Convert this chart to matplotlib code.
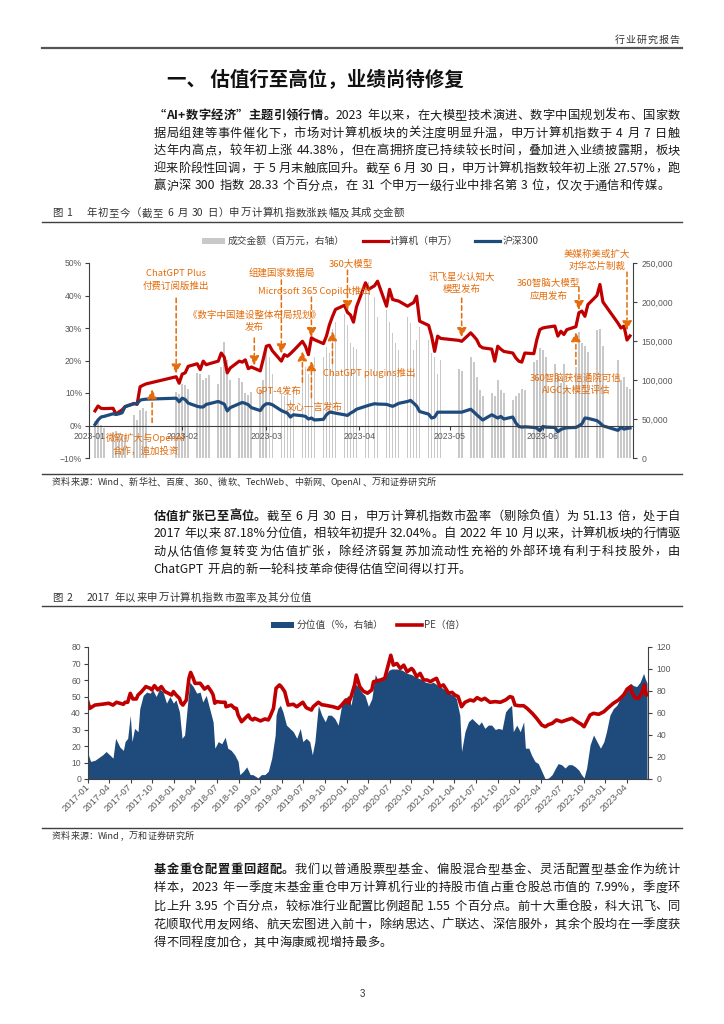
# ----- Import libraries ----
import matplotlib
matplotlib.use('Agg')
import matplotlib.pyplot as plt
import matplotlib.dates as mdates
from matplotlib.font_manager import FontProperties
from matplotlib.lines import Line2D
from matplotlib.patches import Rectangle
from matplotlib.ticker import FuncFormatter
import numpy as np
import pandas as pd

CJK = ['Noto Sans CJK SC', 'DejaVu Sans']
NUM = ['Liberation Sans', 'DejaVu Sans']
plt.rcParams['font.family'] = CJK
plt.rcParams['axes.unicode_minus'] = False

# ---- Figure 1 data: trading days of 2023 H1 ----
holidays = ['2023-01-23', '2023-01-24', '2023-01-25', '2023-01-26', '2023-01-27',
            '2023-04-05', '2023-05-01', '2023-05-02', '2023-05-03',
            '2023-06-22', '2023-06-23']

# 计算机(申万) cumulative change, %
computer_jan = [4.5, 6.0, 5.3, 5.2, 5.3, 3.5, 4.2, 4.8, 5.8, 6.8, 6.5, 11.9, 12.4, 12.8, 15.0, 13.0]
computer_feb = [15.8, 16.2, 18.2, 19.0, 17.2, 19.8, 18.7, 19.0, 19.8, 22.3, 21.0, 16.2, 17.7, 19.8,
                19.5, 20.2, 17.5, 18.0, 16.8, 20.5]
computer_mar = [24.4, 24.7, 23.0, 19.8, 21.8, 21.3, 22.1, 23.0, 25.9, 24.4, 21.8, 27.0, 26.4, 25.2,
                27.5, 31.0, 33.5, 35.7, 37.0, 34.8, 34.0, 31.8, 36.5]
computer_apr = [43.9, 41.9, 43.0, 44.4, 36.7, 41.9, 38.8, 38.5, 38.3, 36.7, 37.3, 37.8, 39.8, 32.1,
                30.8, 27.5, 22.8, 27.5, 26.8]
computer_may = [26.2, 25.9, 28.5, 27.5, 26.4, 24.5, 23.9, 23.5, 19.8, 24.4, 23.5, 22.8, 22.3, 20.8,
                19.8, 19.5, 22.3, 22.1, 26.4, 29.5]
computer_jun = [30.0, 30.2, 30.6, 27.5, 29.0, 28.0, 29.5, 30.4, 34.7, 35.2, 33.6, 37.2, 40.0, 43.4,
                38.0, 31.5, 30.0, 30.6, 26.3, 27.57]

# 沪深300 cumulative change, %
hs300_jan = [0.3, 1.7, 2.6, 2.8, 3.6, 3.4, 3.6, 3.9, 5.8, 6.7, 6.7, 7.8, 8.0, 8.1, 8.4, 7.3]
hs300_feb = [8.4, 8.0, 6.9, 5.9, 5.7, 5.7, 6.5, 6.7, 7.4, 7.0, 6.6, 4.5, 5.5, 6.7, 7.1, 6.8, 6.4,
             5.5, 4.6, 6.0]
hs300_mar = [6.7, 6.7, 6.4, 4.6, 4.2, 3.8, 2.6, 3.3, 3.0, 2.8, 2.0, 2.3, 1.7, 1.9, 3.3, 4.1, 4.0,
             3.8, 3.3, 3.1, 3.8, 4.3, 5.0]
hs300_apr = [5.9, 6.2, 6.7, 6.6, 6.5, 6.2, 5.9, 6.3, 6.8, 7.4, 7.7, 6.9, 6.0, 4.3, 3.5, 2.3, 2.6,
             4.1, 4.1]
hs300_may = [4.1, 4.1, 5.0, 4.2, 3.3, 2.5, 1.7, 3.3, 2.8, 2.3, 2.8, 2.0, 2.6, 0.8, -0.3, -0.5,
             -0.4, -0.6, -0.8, -1.6]
hs300_jun = [-0.3, -0.5, -0.6, -1.9, -1.2, -0.9, -0.7, -0.6, -0.1, 0.5, 2.3, 2.2, 1.5, 0.8, -0.1,
             -1.5, -0.6, -1.1, -0.9, -0.76]

# 成交金额 (百万元)
volume_jan = [48000, 50000, 42000, 38000, 33000, 34000, 32000, 30000, 29000, 55000, 49000, 62000,
              64000, 60000, 84000, 82000]
volume_feb = [95000, 93000, 88000, 109000, 108000, 100000, 102000, 107000, 95000, 117000, 149000,
              126000, 100000, 102000, 98000, 83000, 81000, 85000, 89000, 100000]
volume_mar = [138000, 129000, 108000, 83000, 79000, 91000, 74000, 91000, 123000, 117000, 108000,
              113000, 130000, 130000, 142000, 134000, 165000, 175000, 185000, 170000, 147000,
              142000, 140000]
volume_apr = [224000, 226000, 207000, 181000, 190000, 175000, 160000, 147000, 139000, 181000,
              173000, 139000, 151000, 168000, 151000, 134000, 130000, 108000, 126000]
volume_may = [114000, 112000, 130000, 123000, 104000, 87000, 79000, 83000, 79000, 100000, 87000,
              83000, 74000, 79000, 83000, 89000, 87000, 123000, 126000, 141000]
volume_jun = [139000, 130000, 121000, 108000, 96000, 121000, 91000, 117000, 162000, 147000, 143000,
              136000, 164000, 166000, 143000, 126000, 100000, 104000, 91000, 89000]

# (text, text date, text level %, arrow date, arrow start %, arrow tip %, text align)
events = [
    ('ChatGPT Plus\n付费订阅版推出', '2023-01-30', 44.8, '2023-01-30', 39.2, 16.0, 'center'),
    ('组建国家数据局', '2023-03-06', 46.9, '2023-03-06', 44.8, 22.2, 'center'),
    ('360大模型', '2023-03-29', 49.4, '2023-03-28', 47.8, 35.5, 'center'),
    ('Microsoft 365 Copilot推出', '2023-03-17', 41.4, '2023-03-16', 39.5, 27.2, 'center'),
    ('《数字中国建设整体布局规划》\n发布', '2023-02-25', 32.1, '2023-02-25', 26.9, 18.5, 'center'),
    ('ChatGPT plugins推出', '2023-03-20', 16.0, '2023-03-23', 19.1, 29.0, 'left'),
    ('GPT-4发布', '2023-03-05', 10.5, '2023-03-13', 13.3, 22.8, 'center'),
    ('文心一言发布', '2023-03-17', 5.6, '2023-03-16', 8.6, 19.8, 'center'),
    ('微软扩大与OpenAI\n合作，追加投资', '2023-01-20', -5.7, '2023-01-22', 0.9, 11.1, 'center'),
    ('讯飞星火认知大\n模型发布', '2023-05-05', 43.8, '2023-05-05', 39.2, 27.2, 'center'),
    ('360智脑大模型\n应用发布', '2023-06-03', 41.8, '2023-06-13', 42.6, 35.5, 'center'),
    ('美媒称美或扩大\n对华芯片制裁', '2023-06-19', 50.8, '2023-06-29', 47.2, 29.3, 'center'),
    ('360智脑获信通院可信\nAIGC大模型评估', '2023-06-12', 12.8, '2023-06-12', 18.8, 28.7, 'center'),
]

# ---- Figure 2 data: PE (left axis) and its percentile (right axis) ----
pe_year = [2017.00, 2017.02, 2017.08, 2017.16, 2017.24, 2017.29, 2017.33, 2017.41, 2017.43, 2017.46,
           2017.49, 2017.52, 2017.56, 2017.58, 2017.62, 2017.67, 2017.72, 2017.74, 2017.77, 2017.81,
           2017.85, 2017.89, 2017.93, 2017.97, 2017.99,
           2018.02, 2018.06, 2018.08, 2018.10, 2018.14, 2018.17, 2018.19, 2018.22, 2018.24, 2018.30,
           2018.33, 2018.35, 2018.39, 2018.43, 2018.45, 2018.47, 2018.49, 2018.55, 2018.59, 2018.60,
           2018.66, 2018.70, 2018.72, 2018.74, 2018.78, 2018.82, 2018.86, 2018.88, 2018.91, 2018.93,
           2019.00, 2019.05, 2019.09, 2019.11, 2019.15, 2019.17, 2019.18, 2019.22, 2019.24, 2019.28,
           2019.32, 2019.38, 2019.42, 2019.49, 2019.53, 2019.59, 2019.61, 2019.67, 2019.71, 2019.74,
           2019.78, 2019.84, 2019.90, 2019.94, 2019.99,
           2020.02, 2020.05, 2020.09, 2020.11, 2020.15, 2020.19, 2020.24, 2020.29, 2020.31, 2020.35,
           2020.39, 2020.44, 2020.49, 2020.51, 2020.54, 2020.58, 2020.62, 2020.66, 2020.70, 2020.75,
           2020.77, 2020.81, 2020.85, 2020.89, 2020.93, 2020.97,
           2021.00, 2021.04, 2021.08, 2021.12, 2021.18, 2021.22, 2021.25, 2021.29, 2021.33, 2021.37,
           2021.43, 2021.47, 2021.51, 2021.56, 2021.60, 2021.66, 2021.72, 2021.78, 2021.84, 2021.89,
           2021.92, 2021.95,
           2022.00, 2022.05, 2022.09, 2022.15, 2022.20, 2022.26, 2022.30, 2022.34, 2022.38, 2022.43,
           2022.49, 2022.55, 2022.61, 2022.67, 2022.72, 2022.75, 2022.78, 2022.82, 2022.86, 2022.92,
           2022.98,
           2023.03, 2023.09, 2023.15, 2023.21, 2023.25, 2023.29, 2023.30, 2023.34, 2023.38, 2023.42,
           2023.45, 2023.47, 2023.49]
pe_value = [46.5, 42.8, 44.8, 45.3, 45.9, 44.8, 46.5, 45.3, 46.5, 46.5, 51.9, 48.5, 48.5, 50.9, 52.9,
            56.0, 55.0, 54.0, 56.6, 54.0, 56.0, 53.0, 52.0, 50.9, 53.0,
            51.0, 48.9, 45.9, 44.8, 47.9, 61.0, 64.6, 61.0, 58.0, 58.0, 56.0, 54.5, 56.0, 53.0, 51.0,
            45.9, 46.9, 46.5, 46.5, 43.8, 44.8, 42.8, 42.8, 38.8, 34.7, 36.8, 38.8, 36.8, 35.8, 36.8,
            35.2, 36.4, 35.8, 37.8, 42.8, 51.0, 55.0, 57.0, 56.0, 53.0, 44.8, 45.3, 43.8, 46.5, 43.2,
            41.8, 43.8, 46.5, 45.0, 44.8, 44.4, 43.8, 42.8, 44.8, 47.9,
            46.0, 50.0, 57.0, 63.0, 56.0, 53.3, 52.0, 54.0, 59.0, 59.5, 60.0, 61.0, 71.0, 75.0, 69.0,
            70.0, 67.0, 69.0, 65.0, 67.0, 66.0, 62.0, 64.0, 60.0, 60.0, 59.0,
            60.0, 61.0, 56.0, 57.0, 52.0, 52.5, 51.0, 50.0, 43.8, 46.5, 47.9, 47.3, 49.3, 47.9, 48.9,
            46.5, 46.9, 46.5, 47.9, 49.9, 49.5, 44.8,
            44.4, 44.4, 42.8, 39.8, 36.8, 32.7, 31.7, 33.0, 33.7, 35.8, 34.7, 35.8, 36.8, 34.7, 33.1,
            31.7, 34.7, 38.8, 39.8, 39.2, 40.8,
            43.2, 45.9, 47.9, 51.0, 54.5, 56.0, 53.0, 49.3, 48.9, 52.0, 57.0, 51.0, 51.13]

pct_year = [2017.00, 2017.03, 2017.08, 2017.17, 2017.21, 2017.25, 2017.29, 2017.32, 2017.37, 2017.41,
            2017.43, 2017.46, 2017.49, 2017.51, 2017.54, 2017.58, 2017.60, 2017.64, 2017.68, 2017.72,
            2017.75, 2017.79, 2017.83, 2017.87, 2017.91, 2017.95, 2017.99,
            2018.02, 2018.06, 2018.09, 2018.12, 2018.16, 2018.18, 2018.22, 2018.26, 2018.30, 2018.33,
            2018.37, 2018.41, 2018.45, 2018.47, 2018.51, 2018.55, 2018.59, 2018.62, 2018.66, 2018.70,
            2018.74, 2018.76, 2018.80, 2018.84, 2018.88, 2018.91, 2018.97,
            2019.01, 2019.05, 2019.09, 2019.13, 2019.17, 2019.18, 2019.20, 2019.23, 2019.26, 2019.30,
            2019.34, 2019.38, 2019.42, 2019.46, 2019.49, 2019.53, 2019.57, 2019.60, 2019.63, 2019.67,
            2019.71, 2019.75, 2019.78, 2019.82, 2019.86, 2019.90, 2019.94, 2019.98,
            2020.02, 2020.05, 2020.09, 2020.13, 2020.17, 2020.21, 2020.25, 2020.29, 2020.33, 2020.36,
            2020.39, 2020.44, 2020.49, 2020.52, 2020.58, 2020.64, 2020.70, 2020.75, 2020.79, 2020.85,
            2020.91, 2020.97,
            2021.00, 2021.06, 2021.12, 2021.18, 2021.24, 2021.27, 2021.31, 2021.33, 2021.37, 2021.41,
            2021.45, 2021.49, 2021.53, 2021.56, 2021.60, 2021.64, 2021.68, 2021.72, 2021.76, 2021.80,
            2021.84, 2021.87, 2021.91, 2021.93, 2021.97,
            2022.01, 2022.05, 2022.07, 2022.11, 2022.14, 2022.18, 2022.22, 2022.26, 2022.30, 2022.34,
            2022.38, 2022.42, 2022.45, 2022.49, 2022.53, 2022.57, 2022.61, 2022.65, 2022.69, 2022.72,
            2022.75, 2022.78, 2022.82, 2022.86, 2022.90, 2022.94, 2022.98,
            2023.01, 2023.05, 2023.09, 2023.13, 2023.17, 2023.21, 2023.25, 2023.29, 2023.32, 2023.36,
            2023.40, 2023.44, 2023.46, 2023.48]
pct_value = [23, 16, 17, 22, 25, 22, 19, 37, 29, 26, 34, 37, 58, 34, 46, 43, 64, 76, 79, 78, 81, 75,
             82, 79, 69, 75, 69,
             72, 61, 37, 40, 73, 88, 84, 78, 79, 70, 76, 64, 52, 28, 34, 32, 38, 28, 26, 22, 16, 4, 7,
             11, 4, 4, 1,
             4, 4, 7, 19, 40, 58, 64, 67, 61, 49, 46, 43, 37, 46, 34, 37, 34, 22, 34, 67, 58, 52, 58,
             58, 55, 49, 67, 73,
             76, 67, 87, 84, 79, 76, 66, 73, 95, 90, 91, 93, 99, 100, 100, 99, 96, 95, 93, 91, 88, 87,
             88, 85, 82, 78, 76, 73, 58, 25, 43, 52, 55, 52, 49, 52, 46, 49, 49, 45, 46, 45, 61, 64,
             67, 43, 49,
             43, 52, 28, 28, 22, 16, 14, 7, 0, 1, 4, 10, 14, 13, 10, 13, 13, 11, 8, 4, 1, 10, 31, 40,
             34, 28, 34,
             43, 58, 64, 67, 73, 79, 84, 87, 85, 84, 88, 96, 91, 87.18]

# ---- Page text ----
header_text = '行业研究报告'
title_text = '一、 估值行至高位，业绩尚待修复'
para1_bold = '“AI+数字经济”主题引领行情。'
para1_lines = [
    '“AI+数字经济”主题引领行情。2023 年以来，在大模型技术演进、数字中国规划发布、国家数',
    '据局组建等事件催化下，市场对计算机板块的关注度明显升温，申万计算机指数于 4 月 7 日触',
    '达年内高点，较年初上涨 44.38%，但在高拥挤度已持续较长时间，叠加进入业绩披露期，板块',
    '迎来阶段性回调，于 5 月末触底回升。截至 6 月 30 日，申万计算机指数较年初上涨 27.57%，跑',
    '赢沪深 300 指数 28.33 个百分点，在 31 个申万一级行业中排名第 3 位，仅次于通信和传媒。',
]
para2_bold = '估值扩张已至高位。'
para2_lines = [
    '估值扩张已至高位。截至 6 月 30 日，申万计算机指数市盈率（剔除负值）为 51.13 倍，处于自',
    '2017 年以来 87.18%分位值，相较年初提升 32.04%。自 2022 年 10 月以来，计算机板块的行情驱',
    '动从估值修复转变为估值扩张，除经济弱复苏加流动性充裕的外部环境有利于科技股外，由',
    'ChatGPT 开启的新一轮科技革命使得估值空间得以打开。',
]
para3_bold = '基金重仓配置重回超配。'
para3_lines = [
    '基金重仓配置重回超配。我们以普通股票型基金、偏股混合型基金、灵活配置型基金作为统计',
    '样本，2023 年一季度末基金重仓申万计算机行业的持股市值占重仓股总市值的 7.99%，季度环',
    '比上升 3.95 个百分点，较标准行业配置比例超配 1.55 个百分点。前十大重仓股，科大讯飞、同',
    '花顺取代用友网络、航天宏图进入前十，除纳思达、广联达、深信服外，其余个股均在一季度获',
    '得不同程度加仓，其中海康威视增持最多。',
]
caption1 = '图 1    年初至今（截至 6 月 30 日）申万计算机指数涨跌幅及其成交金额'
caption2 = '图 2    2017 年以来申万计算机指数市盈率及其分位值'
source1 = '资料来源：Wind、新华社、百度、360、微软、TechWeb、中新网、OpenAI、万和证券研究所'
source2 = '资料来源：Wind，万和证券研究所'

RED = '#C00000'
NAVY = '#1F4A7C'
ORANGE = '#E46C0A'
BAR_GRAY = '#C9C9C9'
DARK = '#1A1A1A'
AXIS = '#404040'
TICK = '#595959'

W, H = 724, 1024
fig = plt.figure(figsize=(W / 100, H / 100), dpi=100)
renderer = fig.canvas.get_renderer()


def fx(px):
    return px / W


def fy(py):
    return 1 - py / H


# ---- Text helpers (token by token, so lines can be justified) ----
_adv_cache = {}


def tok_adv(tok, size, weight):
    key = (tok, size, weight)
    if key not in _adv_cache:
        if tok == ' ':
            _adv_cache[key] = size * 100 / 72 * 0.28
        else:
            fp = FontProperties(family=CJK, size=size, weight=weight)
            w1 = renderer.get_text_width_height_descent('国' + tok + '国', fp, ismath=False)[0]
            w0 = renderer.get_text_width_height_descent('国国', fp, ismath=False)[0]
            _adv_cache[key] = w1 - w0
    return _adv_cache[key]


def split_tokens(s):
    toks, buf = [], ''
    for ch in s:
        if ord(ch) < 128 and ch != ' ':
            buf += ch
        else:
            if buf:
                toks.append(buf)
                buf = ''
            toks.append(ch)
    if buf:
        toks.append(buf)
    return toks


def draw_line(s, x0, y_mid, size, x1=None, n_bold=0, color=DARK, gap=0.0):
    # y_mid is the middle of the line in page pixels
    baseline = y_mid + size * 100 / 72 * 0.37
    toks, pos = [], 0
    for t in split_tokens(s):
        toks.append((t, 'bold' if pos < n_bold else 'normal'))
        pos += len(t)
    advs = [tok_adv(t, size, w) for t, w in toks]
    if x1 is not None and len(toks) > 1:
        gap = (x1 - x0 - sum(advs)) / (len(toks) - 1)
    x = x0
    for (t, w), a in zip(toks, advs):
        if t != ' ':
            fig.text(fx(x), fy(baseline), t, fontsize=size, fontweight=w, family=CJK,
                     color=color, ha='left', va='baseline')
        x += a + gap


def draw_para(lines, bold, y0, step):
    for i, line in enumerate(lines):
        last = i == len(lines) - 1
        draw_line(line, 153.5, y0 + i * step, 8.8, x1=None if last else 680,
                  n_bold=len(bold) if i == 0 else 0, gap=0.3)


def hline(py, lw=1.0, color=AXIS):
    fig.add_artist(Line2D([fx(42), fx(682)], [fy(py), fy(py)], color=color, lw=lw))


def style_ticks(ax, size):
    for lbl in ax.get_xticklabels() + ax.get_yticklabels():
        lbl.set_fontfamily(NUM)
        lbl.set_fontsize(size)
        lbl.set_color(TICK)


# ---- Page header and text ----
draw_line(header_text, 615, 39, 7.2, x1=679, color='#333333')
hline(48, lw=1.6, color='#555555')
fig.text(fx(167), fy(80), title_text, fontsize=14, fontweight='bold', family=CJK,
         color='#111111', ha='left', va='center')
draw_para(para1_lines, para1_bold, 114.5, 17.6)

draw_line(caption1, 52, 212.5, 7.5, color='#333333', gap=0.6)
hline(222)

# ---- Figure 1 ----
trade_days = pd.bdate_range('2023-01-03', '2023-06-30')
trade_days = trade_days[~trade_days.isin(pd.to_datetime(holidays))]
computer = computer_jan + computer_feb + computer_mar + computer_apr + computer_may + computer_jun
hs300 = hs300_jan + hs300_feb + hs300_mar + hs300_apr + hs300_may + hs300_jun
volume = volume_jan + volume_feb + volume_mar + volume_apr + volume_may + volume_jun

ax1 = fig.add_axes([fx(89), fy(458), fx(633) - fx(89), (458 - 263) / H])
axb = ax1.twinx()
ax1.set_zorder(2)
axb.set_zorder(1)
ax1.patch.set_visible(False)

axb.bar(trade_days, volume, width=0.55, color=BAR_GRAY, linewidth=0)
axb.set_ylim(0, 250000)
axb.set_yticks(range(0, 250001, 50000))
axb.yaxis.set_major_formatter(FuncFormatter(lambda v, p: f'{v:,.0f}'))

ax1.plot(trade_days, computer, color=RED, lw=2.3, solid_joinstyle='round')
ax1.plot(trade_days, hs300, color=NAVY, lw=2.3, solid_joinstyle='round')
ax1.set_ylim(-10, 50)
ax1.set_yticks(range(-10, 51, 10))
ax1.yaxis.set_major_formatter(FuncFormatter(lambda v, p: f'{v:.0f}%'.replace('-', '\u2212')))
ax1.set_xlim(pd.Timestamp('2023-01-01'), pd.Timestamp('2023-07-01'))
month_starts = pd.date_range('2023-01-01', '2023-06-01', freq='MS')
ax1.set_xticks(month_starts)
ax1.set_xticklabels([d.strftime('%Y-%m') for d in month_starts])

for s in ['top', 'right']:
    ax1.spines[s].set_visible(False)
ax1.spines['bottom'].set_position(('data', 0))
for s in ['top', 'left', 'bottom']:
    axb.spines[s].set_visible(False)
for sp in [ax1.spines['left'], ax1.spines['bottom'], axb.spines['right']]:
    sp.set_color(AXIS)
    sp.set_linewidth(0.8)
ax1.tick_params(axis='both', direction='out', length=3, width=0.8, color=AXIS, pad=2)
axb.tick_params(axis='y', direction='out', length=3, width=0.8, color=AXIS, pad=3)
style_ticks(ax1, 6.2)
style_ticks(axb, 6.2)

for text, tdate, tlev, adate, a_from, a_to, align in events:
    ax1.text(mdates.date2num(pd.Timestamp(tdate)), tlev, text, ha=align, va='center',
             fontsize=6.8, color=ORANGE, family=CJK, linespacing=1.45, zorder=5)
    ax_x = mdates.date2num(pd.Timestamp(adate))
    ax1.annotate('', xy=(ax_x, a_to), xytext=(ax_x, a_from),
                 arrowprops=dict(arrowstyle='-|>,head_length=0.55,head_width=0.28',
                                 color=ORANGE, lw=1.1, linestyle=(0, (3, 2)),
                                 shrinkA=0, shrinkB=0), zorder=5)

# Figure 1 legend
fig.add_artist(Rectangle((fx(202), fy(244)), fx(225) - fx(202), 6 / H, color=BAR_GRAY, lw=0))
fig.text(fx(228), fy(241), '成交金额（百万元，右轴）', fontsize=7, color='#404040',
         family=CJK, ha='left', va='center')
fig.add_artist(Line2D([fx(363), fx(388)], [fy(241), fy(241)], color=RED, lw=2.3))
fig.text(fx(390), fy(241), '计算机（申万）', fontsize=7, color='#404040', family=CJK,
         ha='left', va='center')
fig.add_artist(Line2D([fx(475), fx(500)], [fy(241), fy(241)], color=NAVY, lw=2.3))
fig.text(fx(503), fy(241), '沪深300', fontsize=7, color='#404040', family=CJK,
         ha='left', va='center')

hline(474)
draw_line(source1, 52, 482, 6.5, color='#333333', gap=0.2)

draw_para(para2_lines, para2_bold, 515, 17.7)

draw_line(caption2, 52, 597, 7.5, color='#333333', gap=0.6)
hline(606)

# ---- Figure 2 ----
base = pd.Timestamp('2017-01-01')
pe_dates = base + pd.to_timedelta((np.array(pe_year) - 2017) * 365.25, unit='D')
pct_dates = base + pd.to_timedelta((np.array(pct_year) - 2017) * 365.25, unit='D')

ax2 = fig.add_axes([fx(88), fy(779), fx(648) - fx(88), (779 - 647) / H])
ax2r = ax2.twinx()
ax2.set_zorder(2)
ax2r.set_zorder(1)
ax2.patch.set_visible(False)

ax2r.fill_between(pct_dates, pct_value, 0, color=NAVY, lw=0)
ax2r.set_ylim(0, 120)
ax2r.set_yticks(range(0, 121, 20))

ax2.plot(pe_dates, pe_value, color=RED, lw=2.6, solid_joinstyle='round')
ax2.set_ylim(0, 80)
ax2.set_yticks(range(0, 81, 10))
ax2.set_xlim(pd.Timestamp('2017-01-01'), pd.Timestamp('2023-06-30'))
quarters = pd.date_range('2017-01-01', '2023-04-01', freq='QS')
ax2.set_xticks(quarters)
ax2.set_xticklabels([d.strftime('%Y-%m') for d in quarters], rotation=45, ha='right',
                    va='center', rotation_mode='anchor')

for s in ['top', 'right']:
    ax2.spines[s].set_visible(False)
for s in ['top', 'left', 'bottom']:
    ax2r.spines[s].set_visible(False)
for sp in [ax2.spines['left'], ax2.spines['bottom'], ax2r.spines['right']]:
    sp.set_color(AXIS)
    sp.set_linewidth(0.8)
ax2.tick_params(axis='both', direction='out', length=3, width=0.8, color=AXIS, pad=2)
ax2r.tick_params(axis='y', direction='out', length=3, width=0.8, color=AXIS, pad=3)
style_ticks(ax2, 6.2)
style_ticks(ax2r, 6.2)
for lbl in ax2.get_xticklabels():
    lbl.set_fontsize(6.8)

# Figure 2 legend
fig.add_artist(Rectangle((fx(271), fy(628)), fx(294) - fx(271), 6 / H, color=NAVY, lw=0))
fig.text(fx(297), fy(625), '分位值（%，右轴）', fontsize=7, color='#404040', family=CJK,
         ha='left', va='center')
fig.add_artist(Line2D([fx(397), fx(422)], [fy(625), fy(625)], color=RED, lw=2.6))
fig.text(fx(424), fy(625), 'PE（倍）', fontsize=7, color='#404040', family=CJK,
         ha='left', va='center')

hline(828)
draw_line(source2, 52, 836, 6.5, color='#333333', gap=0.2)

draw_para(para3_lines, para3_bold, 868.5, 18.3)

fig.text(fx(362), fy(994), '3', fontsize=7, color='#333333', family=NUM, ha='center',
         va='center')

fig.savefig('out.png', dpi=100, facecolor='white')
